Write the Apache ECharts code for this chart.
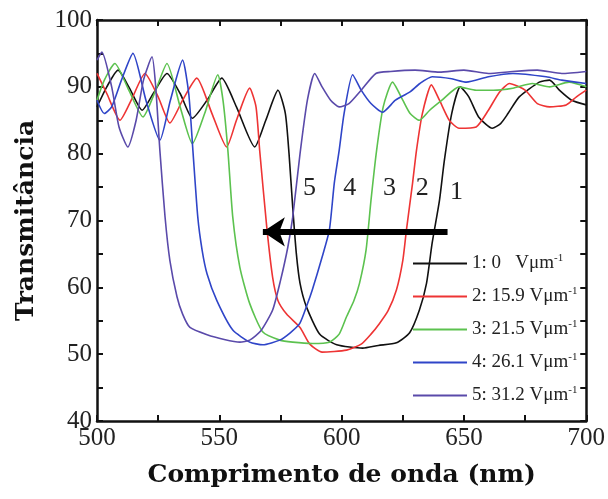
<!DOCTYPE html>
<html><head><meta charset="utf-8">
<script src="https://cdn.jsdelivr.net/npm/echarts@6/dist/echarts.min.js"></script>
<style>html,body{margin:0;padding:0;background:#fff}#c{width:608px;height:499px}</style>
</head><body><div id="c"></div>
<script>
// Curve 1: 0 V/um (black)
const x1 = [500,504,508.6,513,518.5,523,528.6,534,539,545,551,557,564.5,569,574,577,578.5,580,581.5,583,585.7,591,598,608.6,615,622.4,627.8,631.8,634.7,637,640,642,645,648.5,652,656,661.6,665,668,672.6,680.8,685,689,694,700];
const y1 = [87,90,92.5,90,86.5,89,92,89,85.3,88,91.3,87,81,85,89.5,86,80,72,65,60.6,57,53,51.4,50.9,51.3,51.7,53.2,56.6,60.6,66.6,73,79,86,90,88.5,85.5,83.8,84.5,86,88.5,90.7,91,89.5,88,87.3];
// Curve 2: 15.9 V/um (red)
const x2 = [500,504,509.4,514,519.6,525,529.8,535,540.8,547,553,557,562.4,565,566.5,569.4,571.8,574,577.5,583,587,592,602,608,612,615.5,619,622.4,625,626.5,629,630.6,633,636.7,640,644,648,655,660,664.5,668.6,675,680,685,691.8,696,700];
const y2 = [92,89,85,88,92,88.5,84.6,88,91.3,86,81,85,89.8,87,80.5,69,61.5,58,56,54,51.5,50.3,50.6,51.5,53,54.6,56.5,59.6,64,68.6,75.6,80.5,86,90.3,88,85,83.8,84,86.5,89.2,90.5,89.5,87.5,87,87.3,88.5,89.5];
// Curve 3: 21.5 V/um (green)
const x3 = [500,503,507.3,513,518.8,524,528.6,534,539,544,549.4,551.5,553.5,555.5,558.4,562.4,567.8,574.7,580,588,595,599,602,605,607.3,610,612,614.3,617,620.8,625,628,631.8,636,641,648,655,662,670,678,685,693,700];
const y3 = [88,91,93.5,89.5,85.5,89.5,93.5,87,81.5,86,91.8,88,80.5,70.5,63,57.6,53.3,52.1,51.8,51.6,51.8,53,55.6,58,60.6,65.6,73,80.5,87,90.7,88,86,85,86.5,88,90,89.5,89.5,89.8,90.5,90,90.7,90];
// Curve 4: 26.1 V/um (blue)
const x4 = [500,503,506,510,514.7,520,525.7,530,535,537.5,539.2,541.2,543,545,549,555.5,562.4,567.8,574.7,579,582.9,586,588,592,595,597,599,601,604.5,608,612,616.7,622,627.8,632,637,645,651,660,670,683.6,690,700];
const y4 = [88,86,87,91,95,88,82,88,94,89,80.5,70.5,65.5,62,58,53.6,51.8,51.4,52.1,53.2,54.6,57.5,59.6,64.5,68.6,75.6,80.5,86,91.8,89.5,87.5,86.2,88,89.2,90.5,91.5,91.2,90.7,91.5,92,91.5,91,90.5];
// Curve 5: 31.2 V/um (purple)
const x5 = [500,502,506,509,512.6,516,519,522.5,524,525.7,527.8,529.8,532.7,535,538,545,552,558.4,562.4,567,571.8,575,578,580,583,586,589,592,595.5,599,603,608,614,620,630,640,650,660,670,680,690,700];
const y5 = [94,95.2,90,84,81,85,91,94.5,90,80.5,70.6,64,58.6,56,54,52.9,52.2,51.8,52.1,53.5,56.6,61,66,70.5,80,88,92,90,88,87,87.5,89.5,92,92.3,92.5,92.2,92.5,92,92.3,92.5,92,92.3];

const seriesNames = ['1: 0   Vμm','2: 15.9 Vμm','3: 21.5 Vμm','4: 26.1 Vμm','5: 31.2 Vμm'];
const curveLabels = ['1','2','3','4','5'];
const curveLabelX = [647,633,619.6,603.3,586.9];
const curveLabelY = [74.3,74.9,74.9,74.9,74.9];
const arrowX = [643.3,567.8];
const arrowY = [68.3,68.3];

const colors = ['#111111','#ee3434','#5cc24f','#2f45c8','#5a4aaa'];
const xs = [x1,x2,x3,x4,x5], ys = [y1,y2,y3,y4,y5];

const serif = 'Liberation Serif';
const titleFont = 'DejaVu Serif';
const series = xs.map((xa,i)=>({
  name: seriesNames[i],
  type: 'line',
  showSymbol: false,
  symbol: 'none',
  smooth: 0.2,
  data: xa.map((v,j)=>[v, ys[i][j]]),
  lineStyle: {color: colors[i], width: 1.6},
  itemStyle: {color: colors[i]},
  z: 2
}));
series[0].markPoint = {
  symbol: 'circle', symbolSize: 0, silent: true,
  label: {show: true, color: '#222', fontFamily: serif, fontSize: 26, formatter: p=>p.name},
  data: curveLabels.map((t,i)=>({name: t, coord: [curveLabelX[i], curveLabelY[i]]}))
};
series[0].markLine = {
  silent: true, symbol: ['none','arrow'], symbolSize: [22, 22],
  lineStyle: {color: '#000', width: 6, type: 'solid'},
  label: {show: false},
  data: [[{coord: [arrowX[0], arrowY[0]]}, {coord: [arrowX[1], arrowY[1]]}]]
};

const tickLbl = {fontFamily: serif, fontSize: 25, color: '#222'};
const chart = echarts.init(document.getElementById('c'), null, {renderer: 'canvas'});
chart.setOption({
  animation: false,
  backgroundColor: '#fff',
  grid: {left: 97, right: 21, top: 20, bottom: 78},
  legend: {
    orient: 'vertical', left: 408, top: 248,
    icon: 'rect', itemWidth: 54, itemHeight: 2, itemGap: 12,
    data: seriesNames,
    formatter: n => '{m|' + n + '}{s|-1}',
    textStyle: {
      fontFamily: serif, fontSize: 19, color: '#222',
      rich: {
        m: {fontFamily: serif, fontSize: 19, color: '#222', lineHeight: 20},
        s: {fontFamily: serif, fontSize: 11, color: '#222', padding: [0,0,10,0], lineHeight: 20}
      }
    }
  },
  xAxis: [{
    type: 'value', min: 500, max: 700, interval: 25,
    name: 'Comprimento de onda (nm)', nameLocation: 'middle', nameGap: 42,
    nameTextStyle: {fontFamily: titleFont, fontSize: 25, fontWeight: 'bold', color: '#111'},
    axisLine: {lineStyle: {color: '#111', width: 2.5}},
    axisTick: {inside: true, length: 6, lineStyle: {color: '#111', width: 2}},
    axisLabel: Object.assign({margin: 5, formatter: v => v % 50 === 0 ? String(v) : ''}, tickLbl),
    splitLine: {show: false}
  },{
    type: 'value', position: 'top', min: 500, max: 700, interval: 25,
    axisLine: {lineStyle: {color: '#111', width: 2.5}},
    axisTick: {inside: true, length: 6, lineStyle: {color: '#111', width: 2}},
    axisLabel: {show: false}, splitLine: {show: false}
  }],
  yAxis: [{
    type: 'value', min: 40, max: 100, interval: 5,
    name: 'Transmitância', nameLocation: 'middle', nameGap: 58,
    nameTextStyle: {fontFamily: titleFont, fontSize: 25, fontWeight: 'bold', color: '#111'},
    axisLine: {show: true, lineStyle: {color: '#111', width: 2.5}},
    axisTick: {show: true, inside: true, length: 6, lineStyle: {color: '#111', width: 2}},
    axisLabel: Object.assign({margin: 5, formatter: v => v % 10 === 0 ? String(v) : ''}, tickLbl),
    splitLine: {show: false}
  },{
    type: 'value', position: 'right', min: 40, max: 100, interval: 5,
    axisLine: {show: true, lineStyle: {color: '#111', width: 2.5}},
    axisTick: {show: true, inside: true, length: 6, lineStyle: {color: '#111', width: 2}},
    axisLabel: {show: false}, splitLine: {show: false}
  }],
  series: series
});
</script></body></html>
